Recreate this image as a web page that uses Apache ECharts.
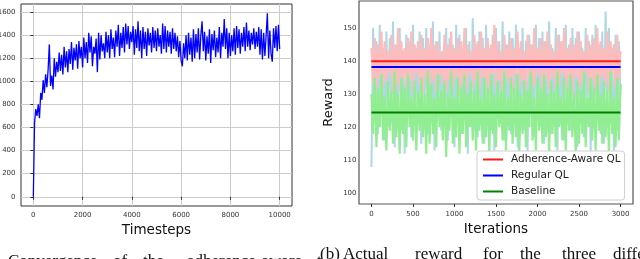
<!DOCTYPE html>
<html>
<head>
<meta charset="utf-8">
<script src="https://cdn.jsdelivr.net/npm/echarts@6/dist/echarts.min.js"></script>
<style>
html,body{margin:0;padding:0;background:#fff;}
#chart{width:640px;height:259px;}
</style>
</head>
<body>
<div id="chart"></div>
<script>
// ---- Left panel: convergence (timesteps vs reward) ----
const timestepStep = 50;
const convergenceValues = [
  0,640,760,700,800,680,900,840,1010,900,
  1060,950,1100,1320,960,1050,930,1200,1040,1170,
  1080,1250,1090,1230,1060,1300,1120,1260,1080,1280,
  1150,1340,1100,1290,1180,1320,1110,1350,1200,1300,
  1120,1380,1200,1340,1160,1420,1250,1390,1130,1300,
  1240,1370,1080,1420,1190,1400,1260,1330,1200,1430,
  1250,1400,1200,1450,1280,1380,1210,1440,1300,1490,
  1220,1420,1290,1470,1250,1500,1320,1480,1280,1430,
  1340,1480,1230,1450,1290,1520,1260,1440,1200,1470,
  1280,1430,1220,1460,1310,1420,1250,1470,1290,1440,
  1260,1460,1300,1400,1240,1500,1280,1480,1250,1440,
  1300,1430,1240,1460,1280,1420,1260,1390,1210,1350,
  1180,1130,1330,1200,1400,1180,1420,1230,1380,1170,
  1450,1200,1410,1250,1460,1190,1400,1520,1260,1430,
  1180,1390,1240,1450,1160,1410,1270,1440,1210,1380,
  1250,1470,1200,1420,1300,1540,1280,1460,1200,1420,
  1220,1400,1260,1460,1230,1480,1290,1450,1240,1420,
  1300,1470,1260,1510,1300,1440,1270,1420,1320,1460,
  1280,1430,1300,1470,1230,1450,1190,1420,1220,1400,
  1590,1200,1440,1240,1170,1460,1290,1480,1260,1490,
  1280
];
const leftXTicks = [0, 2000, 4000, 6000, 8000, 10000];
const leftYTicks = [0, 200, 400, 600, 800, 1000, 1200, 1400, 1600];

// ---- Right panel: actual reward per iteration ----
const iterationStep = 20;
const seriesNames = ['Adherence-Aware QL', 'Regular QL', 'Baseline'];
const adherenceSamples = [
  144,133,147,131,145,135,149,132,146,134,
  143,136,148,130,145,133,150,131,146,135,
  144,132,147,134,149,131,145,136,146,133,
  148,130,144,135,147,132,150,134,145,131,
  146,136,143,133,148,131,145,134,149,132,
  144,135,147,130,146,133,150,131,145,136,
  143,132,148,134,146,131,149,135,144,133,
  147,130,145,136,151,132,146,134,143,131,
  148,135,145,133,147,130,144,136,149,132,
  146,134,143,131,148,135,145,132,150,133,
  144,136,147,130,146,134,149,131,145,135,
  143,132,148,133,146,136,150,131,144,134,
  147,130,145,135,149,132,146,133,143,136,
  148,131,145,134,147,130,150,132,146,135,
  144,133,149,131,146,136,145,132,148,134,
  143
];
const regularSamples = [
  108,150,122,146,118,151,125,144,116,149,
  120,147,127,152,114,145,123,150,119,143,
  112,148,126,146,117,151,121,144,124,149,
  115,147,128,150,118,145,122,152,113,146,
  125,149,119,143,121,150,116,147,127,145,
  114,151,123,148,118,144,126,150,112,146,
  120,153,124,145,117,149,122,147,115,151,
  127,144,119,148,113,150,125,146,121,152,
  116,145,123,149,118,147,126,151,114,144,
  122,150,119,146,112,148,124,145,117,151,
  128,147,120,149,115,146,123,152,118,144,
  125,150,113,148,121,146,116,151,126,145,
  119,150,122,147,114,149,124,144,117,150,
  127,146,112,148,120,151,123,145,118,149,
  115,155,125,150,121,144,113,148,119,146,
  130
];
const baselineSamples = [
  130,118,135,114,132,120,136,116,129,113,
  134,119,131,115,137,117,130,112,135,118,
  132,114,136,120,129,116,134,113,131,119,
  135,117,130,112,137,115,133,118,129,114,
  136,120,131,116,134,111,130,119,137,115,
  129,117,135,112,132,118,136,114,130,120,
  134,116,131,113,137,119,129,115,135,117,
  132,112,136,118,130,114,134,120,131,116,
  137,113,129,119,135,115,132,117,136,112,
  130,118,134,114,131,120,137,116,129,113,
  135,119,132,115,136,117,130,112,134,118,
  131,114,137,120,129,116,135,113,132,119,
  136,117,130,112,134,115,131,118,137,114,
  129,120,135,116,132,113,136,119,130,115,
  134,117,131,112,137,118,129,114,135,116,
  133
];
const meanRewards = [140, 138.2, 124.5];
const iterationRange = [0, 3000];
const rightXTicks = [0, 500, 1000, 1500, 2000, 2500, 3000];
const rightYTicks = [100, 110, 120, 130, 140, 150];

const toXY = (arr, step) => arr.map((v, i) => [i * step, v]);
const plain = v => String(v);

const tickFont = {fontFamily: 'DejaVu Sans', fontSize: 7, color: '#333', formatter: plain};
const nameFont = {fontFamily: 'DejaVu Sans', fontSize: 13.5, color: '#111'};
const capFont = '17px "Liberation Serif"';

const chart = echarts.init(document.getElementById('chart'), null, {renderer: 'canvas'});
chart.setOption({
  animation: false,
  backgroundColor: '#fff',
  grid: [
    {left: 21, top: 4, width: 271, height: 202, show: true, borderColor: '#333', borderWidth: 1, backgroundColor: '#fff', outerBoundsMode: 'none', containLabel: false},
    {left: 359, top: 1, width: 274, height: 203, show: true, borderColor: '#555', borderWidth: 1.2, backgroundColor: '#fff', outerBoundsMode: 'none', containLabel: false}
  ],
  xAxis: [
    {
      type: 'value', gridIndex: 0, min: -500, max: 10500,
      name: 'Timesteps', nameLocation: 'middle', nameGap: 14.5, nameTextStyle: nameFont,
      axisLine: {show: false},
      axisTick: {show: true, length: 3, customValues: leftXTicks, lineStyle: {color: '#333'}},
      axisLabel: {customValues: leftXTicks, margin: 5.5, ...tickFont},
      splitLine: {show: true, lineStyle: {color: '#cccccc', width: 1}}
    },
    {
      type: 'value', gridIndex: 1, min: -150, max: 3150,
      name: 'Iterations', nameLocation: 'middle', nameGap: 16, nameTextStyle: nameFont,
      axisLine: {show: false},
      axisTick: {show: true, length: 3, customValues: rightXTicks, lineStyle: {color: '#333'}},
      axisLabel: {customValues: rightXTicks, margin: 7, ...tickFont},
      splitLine: {show: false}
    }
  ],
  yAxis: [
    {
      type: 'value', gridIndex: 0, min: -80, max: 1670,
      axisLine: {show: false},
      axisTick: {show: true, length: 3, customValues: leftYTicks, lineStyle: {color: '#333'}},
      axisLabel: {customValues: leftYTicks, margin: 5.5, ...tickFont},
      splitLine: {show: true, lineStyle: {color: '#cccccc', width: 1}}
    },
    {
      type: 'value', gridIndex: 1, min: 96.8, max: 158.2,
      name: 'Reward', nameLocation: 'middle', nameGap: 24, nameTextStyle: {...nameFont, fontSize: 13},
      axisLine: {show: false},
      axisTick: {show: false, customValues: rightYTicks},
      axisLabel: {customValues: rightYTicks, margin: 2.5, ...tickFont},
      splitLine: {show: false}
    }
  ],
  legend: {
    data: seriesNames,
    left: 477, top: 151, orient: 'vertical',
    padding: [3, 4, 3, 6],
    itemGap: 5, itemWidth: 20, itemHeight: 2, icon: 'rect',
    backgroundColor: '#fff', borderColor: '#cfcfcf', borderWidth: 1, borderRadius: 3,
    textStyle: {fontFamily: 'DejaVu Sans', fontSize: 10.5, color: '#222', padding: [0, 0, 0, 3]}
  },
  graphic: [
    {type: 'text', style: {x: 8, y: 253, text: 'Convergence', font: capFont, fill: '#111', verticalAlign: 'top'}},
    {type: 'text', style: {x: 113, y: 253, text: 'of', font: capFont, fill: '#111', verticalAlign: 'top'}},
    {type: 'text', style: {x: 143, y: 253, text: 'the', font: capFont, fill: '#111', verticalAlign: 'top'}},
    {type: 'text', style: {x: 187, y: 253, text: 'adherence-aware', font: capFont, fill: '#111', verticalAlign: 'top'}},
    {type: 'text', style: {x: 317, y: 253, text: 't', font: capFont, fill: '#111', verticalAlign: 'top'}},
    {type: 'text', style: {x: 320, y: 246.5, text: '(b)', font: capFont, fill: '#111', verticalAlign: 'top'}},
    {type: 'text', style: {x: 343, y: 246.5, text: 'Actual', font: capFont, fill: '#111', verticalAlign: 'top'}},
    {type: 'text', style: {x: 415, y: 246.5, text: 'reward', font: capFont, fill: '#111', verticalAlign: 'top'}},
    {type: 'text', style: {x: 483, y: 246.5, text: 'for', font: capFont, fill: '#111', verticalAlign: 'top'}},
    {type: 'text', style: {x: 520, y: 246.5, text: 'the', font: capFont, fill: '#111', verticalAlign: 'top'}},
    {type: 'text', style: {x: 562, y: 246.5, text: 'three', font: capFont, fill: '#111', verticalAlign: 'top'}},
    {type: 'text', style: {x: 613, y: 246.5, text: 'different', font: capFont, fill: '#111', verticalAlign: 'top'}}
  ],
  series: [
    {
      name: 'convergence', type: 'line', xAxisIndex: 0, yAxisIndex: 0,
      data: toXY(convergenceValues, timestepStep), showSymbol: false, symbol: 'none',
      lineStyle: {color: '#0000ff', width: 1.3}, itemStyle: {color: '#0000ff'}, silent: true
    },
    {
      name: 'Regular QL samples', type: 'line', xAxisIndex: 1, yAxisIndex: 1,
      data: toXY(regularSamples, iterationStep), symbol: 'none',
      lineStyle: {color: '#add8e6', width: 2}, itemStyle: {color: '#add8e6'}, silent: true
    },
    {
      name: 'Adherence-Aware QL samples', type: 'line', xAxisIndex: 1, yAxisIndex: 1,
      data: toXY(adherenceSamples, iterationStep), symbol: 'none',
      lineStyle: {color: '#ffbcbc', width: 2.2}, itemStyle: {color: '#ffbcbc'}, silent: true
    },
    {
      name: 'Baseline samples', type: 'line', xAxisIndex: 1, yAxisIndex: 1,
      data: toXY(baselineSamples, iterationStep), symbol: 'none',
      lineStyle: {color: '#90ee90', width: 2.2}, itemStyle: {color: '#90ee90'}, silent: true
    },
    ...seriesNames.map((name, k) => {
      const col = ['#ff1a1a', '#0000ff', '#008000'][k];
      return {
        name, type: 'line', xAxisIndex: 1, yAxisIndex: 1,
        data: iterationRange.map(x => [x, meanRewards[k]]), symbol: 'none',
        lineStyle: {color: col, width: 2}, itemStyle: {color: col}, silent: true
      };
    })
  ]
});
</script>
</body>
</html>
